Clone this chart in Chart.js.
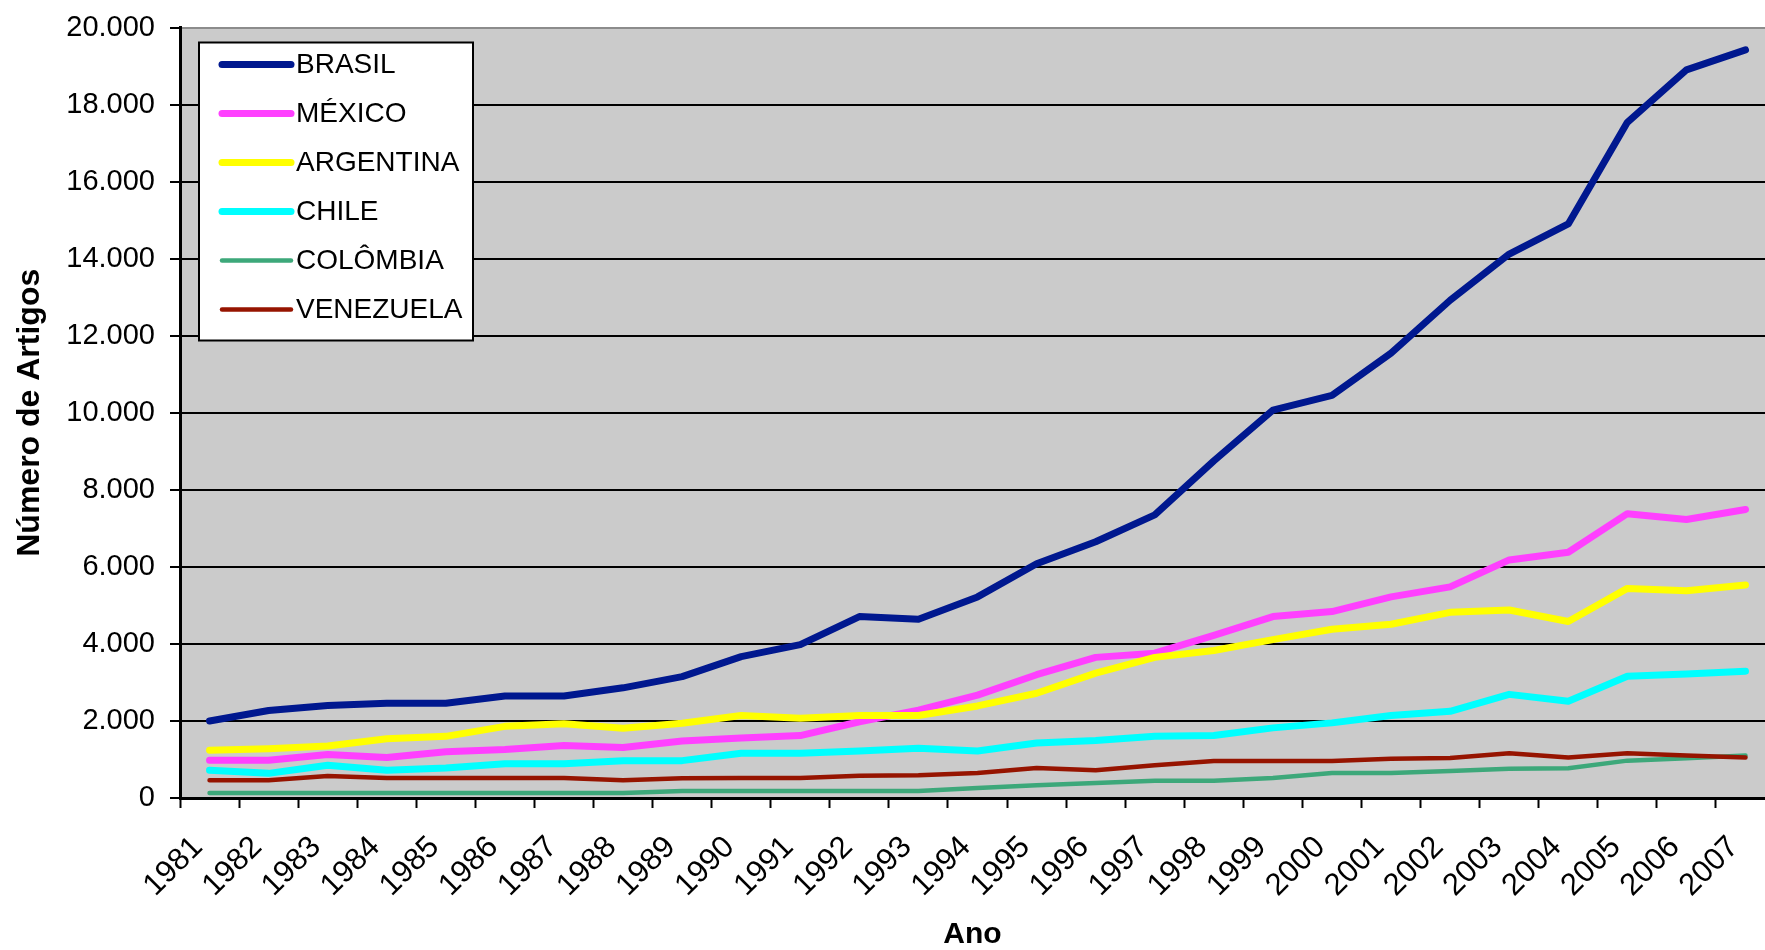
<!DOCTYPE html>
<html>
<head>
<meta charset="utf-8">
<script src="https://cdn.jsdelivr.net/npm/chart.js@4.4.1/dist/chart.umd.min.js"></script>
<style>
  html, body { margin: 0; padding: 0; background: #ffffff; overflow: hidden; }
  #wrap { width: 1765px; height: 950px; }
</style>
</head>
<body>
<div id="wrap"><canvas id="c" width="1765" height="950"></canvas></div>
<script>
const years = ['1981','1982','1983','1984','1985','1986','1987','1988','1989','1990','1991','1992','1993','1994','1995','1996','1997','1998','1999','2000','2001','2002','2003','2004','2005','2006','2007'];
const seriesNames = ['BRASIL', 'MÉXICO', 'ARGENTINA', 'CHILE', 'COLÔMBIA', 'VENEZUELA'];
const brasil    = [2000, 2270, 2400, 2460, 2460, 2650, 2650, 2860, 3150, 3670, 3980, 4710, 4640, 5220, 6080, 6650, 7350, 8750, 10070, 10450, 11550, 12920, 14120, 14900, 17540, 18900, 19420];
const mexico    = [980, 980, 1130, 1050, 1200, 1260, 1360, 1310, 1480, 1560, 1620, 1980, 2280, 2670, 3200, 3650, 3760, 4220, 4710, 4840, 5220, 5480, 6180, 6380, 7380, 7230, 7490];
const argentina = [1240, 1280, 1350, 1540, 1600, 1860, 1930, 1810, 1940, 2140, 2070, 2140, 2140, 2390, 2720, 3240, 3650, 3830, 4110, 4380, 4510, 4820, 4880, 4580, 5440, 5380, 5530];
const chile     = [720, 640, 850, 720, 780, 890, 890, 970, 970, 1160, 1160, 1220, 1290, 1220, 1430, 1490, 1600, 1620, 1820, 1950, 2140, 2250, 2690, 2510, 3160, 3220, 3290];
const colombia  = [130, 130, 130, 130, 130, 130, 130, 130, 180, 180, 180, 180, 180, 260, 330, 390, 450, 450, 520, 650, 650, 700, 760, 770, 970, 1030, 1100];
const venezuela = [460, 460, 570, 520, 520, 520, 520, 460, 510, 520, 520, 580, 590, 650, 780, 720, 850, 960, 960, 960, 1020, 1040, 1160, 1050, 1160, 1100, 1050];
const yTicks = [0, 2000, 4000, 6000, 8000, 10000, 12000, 14000, 16000, 18000, 20000];

const colors = ['#00188F', '#FF40FF', '#FFFF00', '#00FFFF', '#3DA87A', '#961400'];
const widths = [7, 7, 7, 7, 4.5, 4.5];
const values = [brasil, mexico, argentina, chile, colombia, venezuela];

function fmt(v) { return String(v).replace(/\B(?=(\d{3})+(?!\d))/g, '.'); }

const datasets = seriesNames.map((name, i) => ({
  label: name,
  data: values[i].map((v, j) => ({ x: j + 0.5, y: v })),
  borderColor: colors[i],
  backgroundColor: colors[i],
  borderWidth: widths[i],
  pointRadius: 0,
  pointHoverRadius: 0,
  tension: 0,
  borderJoinStyle: 'round',
  borderCapStyle: 'round',
  fill: false,
  order: seriesNames.length - i
}));

const bgPlugin = {
  id: 'bg',
  beforeDraw(chart) {
    const { ctx, chartArea: a } = chart;
    ctx.save();
    ctx.fillStyle = '#ffffff';
    ctx.fillRect(0, 0, chart.width, chart.height);
    ctx.fillStyle = '#CBCBCB';
    ctx.fillRect(a.left, a.top, a.right - a.left, a.bottom - a.top);
    ctx.restore();
  }
};

const boxLegend = {
  id: 'boxLegend',
  afterDraw(chart) {
    const { ctx, chartArea: a } = chart;
    const x0 = a.left + 19, y0 = a.top + 15, w = 274, h = 298;
    ctx.save();
    ctx.fillStyle = '#ffffff';
    ctx.fillRect(x0, y0, w, h);
    ctx.strokeStyle = '#000000';
    ctx.lineWidth = 2;
    ctx.strokeRect(x0, y0, w, h);
    ctx.font = '28px "Liberation Sans", Arial, sans-serif';
    ctx.textBaseline = 'middle';
    ctx.textAlign = 'left';
    chart.data.datasets.forEach((ds, i) => {
      const yy = y0 + 22 + i * 49;
      ctx.strokeStyle = ds.borderColor;
      ctx.lineWidth = ds.borderWidth;
      ctx.lineCap = 'round';
      ctx.beginPath();
      ctx.moveTo(x0 + 23, yy);
      ctx.lineTo(x0 + 92, yy);
      ctx.stroke();
      ctx.fillStyle = '#000000';
      ctx.fillText(ds.label, x0 + 97, yy + 1);
    });
    ctx.restore();
  }
};

new Chart(document.getElementById('c'), {
  type: 'line',
  data: { datasets },
  options: {
    responsive: false,
    animation: false,
    events: [],
    layout: { padding: { top: 27.5, right: 0, bottom: 0, left: 0 } },
    plugins: { legend: { display: false }, tooltip: { enabled: false } },
    scales: {
      x: {
        type: 'linear',
        min: 0,
        max: 26.83,
        afterFit(s) { s.height = 152; },
        afterBuildTicks(s) { s.ticks = years.map((y, i) => ({ value: i })); },
        ticks: {
          stepSize: 1,
          autoSkip: false,
          includeBounds: false,
          minRotation: 45,
          maxRotation: 45,
          padding: 21,
          labelOffset: 18,
          color: '#000',
          font: { family: '"Liberation Sans", Arial, sans-serif', size: 31 },
          callback: (v) => years[v] !== undefined ? years[v] : ''
        },
        grid: { drawOnChartArea: false, drawTicks: true, tickLength: 10, tickColor: '#000', tickWidth: 2 },
        border: { display: true, color: '#000', width: 3 },
        title: {
          display: true, text: 'Ano', color: '#000',
          font: { family: '"Liberation Sans", Arial, sans-serif', size: 30, weight: 'bold', lineHeight: 1 },
          padding: { top: 0, bottom: 0 }
        }
      },
      y: {
        min: 0,
        max: 20000,
        afterFit(s) { s.width = 180; s.paddingTop = 0; s.paddingBottom = 0; },
        afterBuildTicks(s) { s.ticks = yTicks.map(v => ({ value: v })); },
        ticks: {
          stepSize: 2000,
          padding: 15,
          color: '#000',
          font: { family: '"Liberation Sans", Arial, sans-serif', size: 29 },
          callback: (v) => fmt(v)
        },
        grid: {
          color: (c) => (c.tick && c.tick.value === 20000) ? '#8C8C8C' : '#000000',
          lineWidth: 2,
          tickLength: 10,
          tickColor: '#000',
          tickWidth: 2
        },
        border: { display: true, color: '#000', width: 3 },
        title: {
          display: true, text: 'Número de Artigos', color: '#000',
          font: { family: '"Liberation Sans", Arial, sans-serif', size: 32, weight: 'bold' },
          padding: { top: 11, bottom: 0 }
        }
      }
    }
  },
  plugins: [bgPlugin, boxLegend]
});
</script>
</body>
</html>
